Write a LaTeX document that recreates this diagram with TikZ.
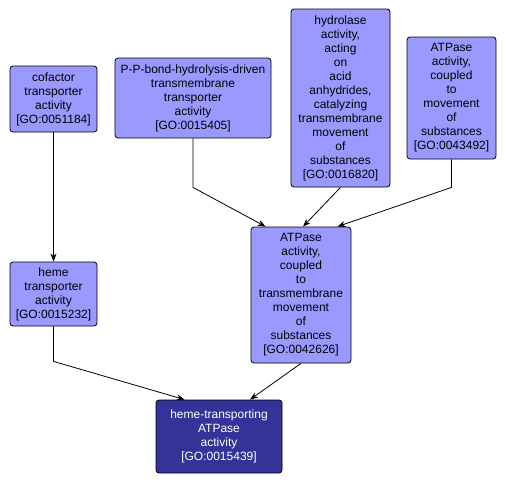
\documentclass[tikz,border=0pt]{standalone}
\usepackage{fontspec}
\setmainfont{Liberation Sans}
\usetikzlibrary{arrows.meta}
\definecolor{TermFill}{HTML}{9999FF}
\definecolor{QueryFill}{HTML}{333399}
\tikzset{
  term/.style={rounded corners=3pt,draw=black,line width=0.8pt,fill=TermFill,align=center,inner sep=0pt,font=\fontsize{12}{14}\selectfont},
  query/.style={term,fill=QueryFill,text=white},
  arrow/.style={-{Stealth[length=8pt,width=6pt]},line width=0.8pt,draw=black}
}

\begin{document}
\begin{tikzpicture}[x=1pt,y=-1pt]
  \useasboundingbox (0,0) rectangle (506,485);

  \node[term,minimum width=87pt,minimum height=66pt] (cofactor) at (53.5,99) {cofactor\\transporter\\activity\\{[GO:0051184]}};
  \node[term,minimum width=156pt,minimum height=80pt] (ppbond) at (193,98) {P-P-bond-hydrolysis-driven\\transmembrane\\transporter\\activity\\{[GO:0015405]}};
  \node[term,minimum width=99pt,minimum height=178pt] (hydrolase) at (340.5,98) {hydrolase\\activity,\\acting\\on\\acid\\anhydrides,\\catalyzing\\transmembrane\\movement\\of\\substances\\{[GO:0016820]}};
  \node[term,minimum width=89pt,minimum height=122pt] (atpmove) at (451.5,98) {ATPase\\activity,\\coupled\\to\\movement\\of\\substances\\{[GO:0043492]}};

  \node[term,minimum width=87pt,minimum height=64pt] (heme) at (53.5,294) {heme\\transporter\\activity\\{[GO:0015232]}};
  \node[term,minimum width=100pt,minimum height=136pt] (atptm) at (301,295) {ATPase\\activity,\\coupled\\to\\transmembrane\\movement\\of\\substances\\{[GO:0042626]}};

  \node[query,minimum width=126pt,minimum height=73pt] (hemeatp) at (219,436.5) {heme-transporting\\ATPase\\activity\\{[GO:0015439]}};

  \draw[arrow] (cofactor) -- (heme);
  \draw[arrow] (ppbond.south) -- ++(0,49) -- ([xshift=15pt]atptm.north west);
  \draw[arrow] (hydrolase.south) -- ([xshift=2pt]atptm.north);
  \draw[arrow] (atpmove.south) -- ++(0,28) -- ([xshift=-14pt]atptm.north east);
  \draw[arrow] (heme.south) -- ++(0,35) -- ([xshift=29pt]hemeatp.north west);
  \draw[arrow] (atptm.south) -- ([xshift=31pt]hemeatp.north);
\end{tikzpicture}
\end{document}
